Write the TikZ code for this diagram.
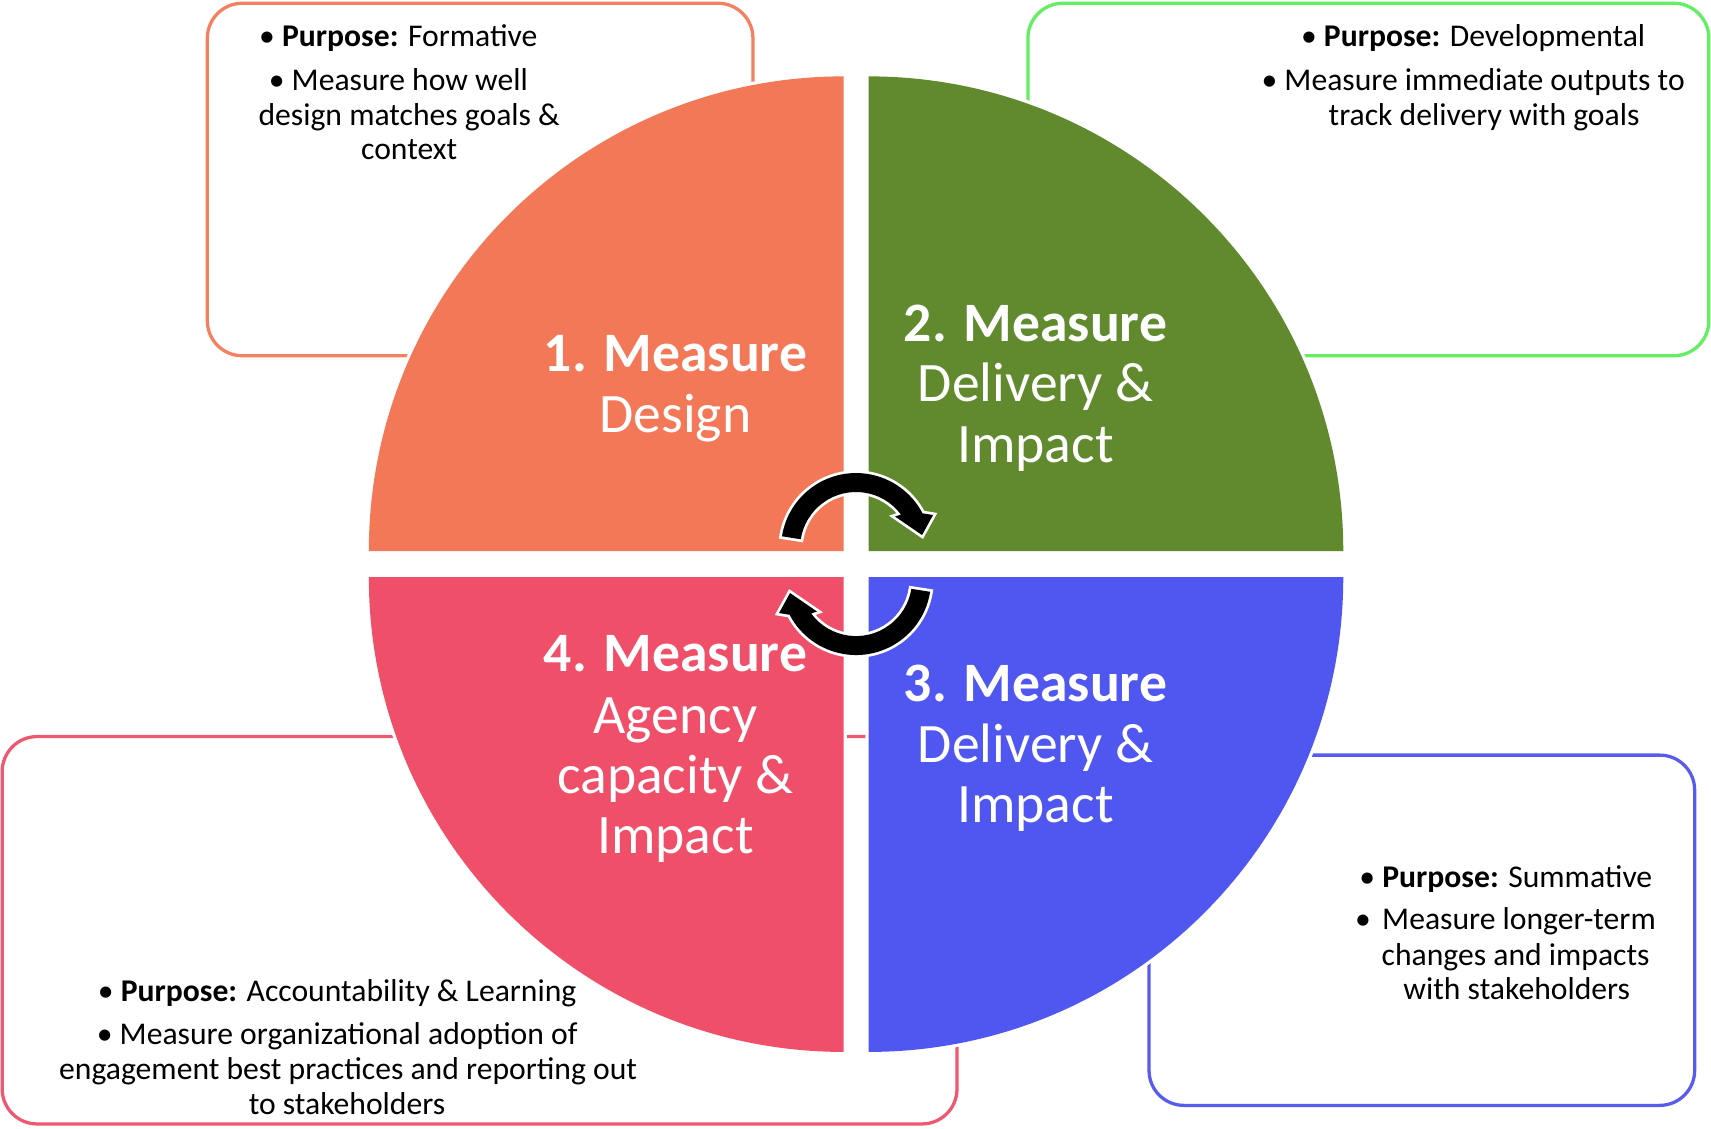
\documentclass[tikz,border=0pt]{standalone}
\usepackage{fontspec}
\setmainfont{Carlito}
\definecolor{qorange}{RGB}{242,120,87}
\definecolor{qgreen}{RGB}{97,137,45}
\definecolor{qblue}{RGB}{80,87,240}
\definecolor{qred}{RGB}{240,79,106}
\definecolor{borange}{RGB}{244,128,98}
\definecolor{bgreen}{RGB}{100,238,100}
\definecolor{bblue}{RGB}{88,92,236}
\definecolor{bred}{RGB}{238,88,112}
\tikzset{
  boxst/.style={draw, line width=3pt, rounded corners=32pt, inner sep=0pt, outer sep=0pt, fill=white},
  smalltxt/.style={font=\fontsize{29}{32}\selectfont, anchor=base, inner sep=0pt, text=black},
  bigtxt/.style={font=\fontsize{51}{56}\selectfont, anchor=base, inner sep=0pt, text=white},
  quad/.style={preaction={draw=white, line width=6pt}},
  cyc/.style={fill=black, preaction={draw=white, line width=5pt, line join=miter}}
}
\begin{document}
\begin{tikzpicture}[x=1pt,y=-1pt]
\useasboundingbox (0,0) rectangle (1568,1034.64);
% boxes
\node[boxst, draw=borange, minimum width=500pt, minimum height=323pt] (b1) at (440,164.5) {};
\node[boxst, draw=bgreen, minimum width=624pt, minimum height=323pt] (b2) at (1254,164.5) {};
\node[boxst, draw=bblue, minimum width=500pt, minimum height=321pt] (b3) at (1303,852.5) {};
\node[boxst, draw=bred, minimum width=875pt, minimum height=355pt] (b4) at (439.5,852.5) {};
% quadrants
\path[quad, fill=qorange] (773,505) -- ++(-435,0) arc[start angle=180, end angle=270, radius=435] -- cycle;
\path[quad, fill=qgreen] (796,505) -- ++(0,-435) arc[start angle=270, end angle=360, radius=435] -- cycle;
\path[quad, fill=qblue] (796,529) -- ++(435,0) arc[start angle=0, end angle=90, radius=435] -- cycle;
\path[quad, fill=qred] (773,529) -- ++(0,435) arc[start angle=90, end angle=180, radius=435] -- cycle;
% box texts
\node[smalltxt] (t1a) at (365,43) {• \textbf{Purpose:} Formative};
\node[smalltxt] (t1b) at (365,83) {• Measure how well};
\node[smalltxt] (t1c) at (375,115) {design matches goals \&};
\node[smalltxt] (t1d) at (375,146) {context};
\node[smalltxt] (t2a) at (1350,43) {• \textbf{Purpose:} Developmental};
\node[smalltxt] (t2b) at (1350,83) {• Measure immediate outputs to};
\node[smalltxt] (t2c) at (1360,115) {track delivery with goals};
\node[smalltxt] (t3a) at (1380,813) {• \textbf{Purpose:} Summative};
\node[smalltxt] (t3p) at (1249,852) {•};
\node[smalltxt] (t3b) at (1392,852) {Measure longer-term};
\node[smalltxt] (t3c) at (1389,885) {changes and impacts};
\node[smalltxt] (t3d) at (1390,916) {with stakeholders};
\node[smalltxt] (t4a) at (309,918) {• \textbf{Purpose:} Accountability \& Learning};
\node[smalltxt] (t4b) at (309,957) {• Measure organizational adoption of};
\node[smalltxt] (t4c) at (319,989) {engagement best practices and reporting out};
\node[smalltxt] (t4d) at (318,1021) {to stakeholders};
% quadrant titles
\node[bigtxt] (q1a) at (619,340) {\textbf{1. Measure}};
\node[bigtxt] (q1b) at (619,396) {Design};
\node[bigtxt] (q2a) at (949,313) {\textbf{2. Measure}};
\node[bigtxt] (q2b) at (949,368) {Delivery \&};
\node[bigtxt] (q2c) at (949,424) {Impact};
\node[bigtxt] (q3a) at (949,643) {\textbf{3. Measure}};
\node[bigtxt] (q3b) at (949,699) {Delivery \&};
\node[bigtxt] (q3c) at (949,754) {Impact};
\node[bigtxt] (q4a) at (619,615) {\textbf{4. Measure}};
\node[bigtxt] (q4b) at (619,672) {Agency};
\node[bigtxt] (q4c) at (619,727) {capacity \&};
\node[bigtxt] (q4d) at (619,782) {Impact};
% cycle arrows
\begin{scope}[shift={(784.5,516.9)}, scale=0.9164]
  \path[cyc] (-74.08,-27.73) arc[start angle=-171, end angle=-27.6, radius=75] -- (77,-49) -- (66,-29) -- (39,-47.5) -- (44.9,-49.5) arc[start angle=-36.7, end angle=-171, radius=56] -- cycle;
\end{scope}
\begin{scope}[shift={(784.5,516.9)}, scale=0.9164, rotate=180]
  \path[cyc] (-74.08,-27.73) arc[start angle=-171, end angle=-27.6, radius=75] -- (77,-49) -- (66,-29) -- (39,-47.5) -- (44.9,-49.5) arc[start angle=-36.7, end angle=-171, radius=56] -- cycle;
\end{scope}
\end{tikzpicture}
\end{document}
